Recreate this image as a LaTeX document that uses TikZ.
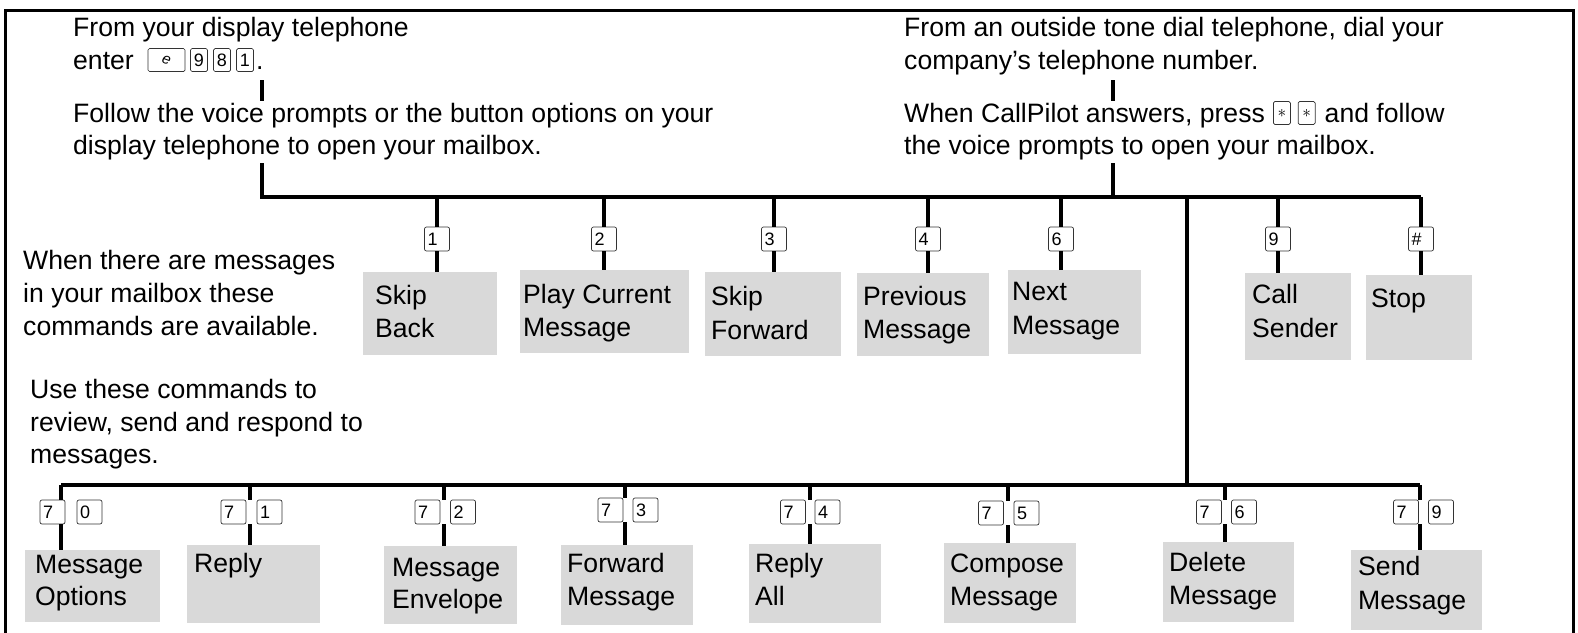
\documentclass[tikz,border=0pt]{standalone}
\usepackage{fontspec}
\setmainfont{Liberation Sans}
\usetikzlibrary{positioning}
\definecolor{boxgray}{RGB}{217,217,217}
\tikzset{
  txt/.style={font=\fontsize{26.6}{33}\selectfont, inner sep=0pt, anchor=base west},
  keybox/.style={draw=black!80, line width=0.7pt, rounded corners=2pt, minimum height=24pt,
    text width=19pt, inner xsep=3pt, inner ysep=0pt, align=left, font=\fontsize{18}{18}\selectfont},
  ikey/.style={draw=black!80, line width=0.7pt, rounded corners=1.5pt, minimum height=23pt,
    minimum width=17pt, inner sep=0pt, font=\fontsize{18}{18}\selectfont},
  cmd/.style={fill=boxgray, inner sep=0pt, anchor=north west},
  wire/.style={line width=3.2pt},
  frameline/.style={line width=3pt},
}
\begin{document}
\begin{tikzpicture}[x=1pt,y=-1pt]
\clip (0,0) rectangle (1578,632);
% frame
\draw[frameline] (5,700) -- (5,10) -- (1573,10) -- (1573,700);

% ---------- top left text ----------
\node[txt] (t1) at (73,36) {From your display telephone};
\node[txt] (t2) at (73,69) {enter};
\node[ikey, minimum width=37pt] (fk) at (166.5,60) {\fontsize{15}{15}\selectfont\itshape\rotatebox{-20}{e}};
\node[ikey] (k9a) at (199,60) {9};
\node[ikey] (k8a) at (222,60) {8};
\node[ikey] (k1a) at (245,60) {1};
\node[txt] (dot) at (256,69) {.};
\node[txt] (t3) at (73,122) {Follow the voice prompts or the button options on your};
\node[txt] (t4) at (73,154) {display telephone to open your mailbox.};

% ---------- top right text ----------
\node[txt] (r1) at (904,36) {From an outside tone dial telephone, dial your};
\node[txt] (r2) at (904,69) {company’s telephone number.};
\node[txt] (r3) at (904,122) {When CallPilot answers, press};
\node[ikey, right=8pt of r3.base east, anchor=west, yshift=9pt] (ks1) {$\ast$};
\node[ikey, right=7pt of ks1] (ks2) {$\ast$};
\node[txt] (r3b) at ([xshift=9pt]ks2.east |- r3.base) {and follow};
\node[txt] (r4) at (904,154) {the voice prompts to open your mailbox.};

% short connectors between text lines
\coordinate (la1) at (262,80);
\coordinate (la2) at (262,101);
\coordinate (ra1) at (1113,80);
\coordinate (ra2) at (1113,101);
\draw[wire] (la1) -- (la2);
\draw[wire] (ra1) -- (ra2);

% ---------- top bus ----------
\coordinate (lt) at (262,163);
\coordinate (rt) at (1113,163);
\coordinate (busL) at (262,197);
\coordinate (busR) at (1421,197);
\coordinate (busB) at (1187,485);
\draw[wire] (lt) -- (busL) -- (busR);
\draw[wire] (rt) -- (rt |- busL);
\draw[wire] (busB |- busL) -- (busB);

% ---------- left labels ----------
\node[txt] (m1) at (23,269) {When there are messages};
\node[txt] (m2) at (23,302) {in your mailbox these};
\node[txt] (m3) at (23,335) {commands are available.};
\node[txt] (u1) at (30,398) {Use these commands to};
\node[txt] (u2) at (30,431) {review, send and respond to};
\node[txt] (u3) at (30,463) {messages.};

% ---------- top row keys ----------
\node[keybox] (k1) at (437,239) {1};
\node[keybox] (k2) at (604,239) {2};
\node[keybox] (k3) at (774,239) {3};
\node[keybox] (k4) at (928,239) {4};
\node[keybox] (k6) at (1061,239) {6};
\node[keybox] (k9) at (1278,239) {9};
\node[keybox] (kh) at (1421,239) {\#};

% ---------- top row boxes ----------
\node[cmd, minimum width=134pt, minimum height=83pt] (b1) at (363,272) {};
\node[cmd, minimum width=169pt, minimum height=83pt] (b2) at (520,270) {};
\node[cmd, minimum width=136pt, minimum height=84pt] (b3) at (705,272) {};
\node[cmd, minimum width=132pt, minimum height=83pt] (b4) at (857,273) {};
\node[cmd, minimum width=133pt, minimum height=84pt] (b6) at (1008,270) {};
\node[cmd, minimum width=106pt, minimum height=87pt] (b9) at (1245,273) {};
\node[cmd, minimum width=106pt, minimum height=85pt] (bh) at (1366,275) {};

\node[txt] (b1a) at (375,304) {Skip};
\node[txt] (b1b) at (375,337) {Back};
\node[txt] (b2a) at (523,303) {Play Current};
\node[txt] (b2b) at (523,336) {Message};
\node[txt] (b3a) at (711,305) {Skip};
\node[txt] (b3b) at (711,339) {Forward};
\node[txt] (b4a) at (863,305) {Previous};
\node[txt] (b4b) at (863,338) {Message};
\node[txt] (b6a) at (1012,300) {Next};
\node[txt] (b6b) at (1012,334) {Message};
\node[txt] (b9a) at (1252,303) {Call};
\node[txt] (b9b) at (1252,337) {Sender};
\node[txt] (bha) at (1371,307) {Stop};

% top row connectors
\foreach \k/\b in {k1/b1,k2/b2,k3/b3,k4/b4,k6/b6,k9/b9,kh/bh}{
  \draw[wire] (\k.north |- busL) -- (\k.north);
  \draw[wire] (\k.south) -- (\k.south |- \b.north);
}

% ---------- lower bus ----------
\coordinate (j0) at (61,485);
\coordinate (j1) at (250,485);
\coordinate (j2) at (444,485);
\coordinate (j3) at (625,485);
\coordinate (j4) at (810,485);
\coordinate (j5) at (1008,485);
\coordinate (j6) at (1225,485);
\coordinate (j9) at (1420,485);
\draw[wire] (j0) -- (j9);

% lower keys (pairs)
\node[keybox] (p0a) at (52.5,512) {7};
\node[keybox] (p0b) at (89.5,512) {0};
\node[keybox] (p1a) at (233.5,512) {7};
\node[keybox] (p1b) at (269.5,512) {1};
\node[keybox] (p2a) at (427.5,512) {7};
\node[keybox] (p2b) at (463,512) {2};
\node[keybox] (p3a) at (610.5,510) {7};
\node[keybox] (p3b) at (645.5,510) {3};
\node[keybox] (p4a) at (793,512) {7};
\node[keybox] (p4b) at (827.5,512) {4};
\node[keybox] (p5a) at (991,513) {7};
\node[keybox] (p5b) at (1026.5,513) {5};
\node[keybox] (p6a) at (1209,512) {7};
\node[keybox] (p6b) at (1244,512) {6};
\node[keybox] (p9a) at (1406,512) {7};
\node[keybox] (p9b) at (1441,512) {9};

% lower boxes
\node[cmd, minimum width=135pt, minimum height=72pt] (c0) at (25,550) {};
\node[cmd, minimum width=133pt, minimum height=78pt] (c1) at (187,545) {};
\node[cmd, minimum width=133pt, minimum height=78pt] (c2) at (384,546) {};
\node[cmd, minimum width=132pt, minimum height=80pt] (c3) at (561,545) {};
\node[cmd, minimum width=132pt, minimum height=79pt] (c4) at (749,544) {};
\node[cmd, minimum width=132pt, minimum height=80pt] (c5) at (944,543) {};
\node[cmd, minimum width=131pt, minimum height=80pt] (c6) at (1163,542) {};
\node[cmd, minimum width=131pt, minimum height=80pt] (c9) at (1351,550) {};

\node[txt] (c0a) at (35,573) {Message};
\node[txt] (c0b) at (35,605) {Options};
\node[txt] (c1a) at (194,572) {Reply};
\node[txt] (c2a) at (392,576) {Message};
\node[txt] (c2b) at (392,608) {Envelope};
\node[txt] (c3a) at (567,572) {Forward};
\node[txt] (c3b) at (567,605) {Message};
\node[txt] (c4a) at (755,572) {Reply};
\node[txt] (c4b) at (755,605) {All};
\node[txt] (c5a) at (950,572) {Compose};
\node[txt] (c5b) at (950,605) {Message};
\node[txt] (c6a) at (1169,571) {Delete};
\node[txt] (c6b) at (1169,604) {Message};
\node[txt] (c9a) at (1358,575) {Send};
\node[txt] (c9b) at (1358,609) {Message};

% lower connectors
\foreach \j/\k/\c in {j0/p0a/c0,j1/p1a/c1,j2/p2a/c2,j3/p3a/c3,j4/p4a/c4,j5/p5a/c5,j6/p6a/c6,j9/p9a/c9}{
  \draw[wire] (\j) -- (\j |- \k.north);
  \draw[wire] (\j |- \k.south) -- (\j |- \c.north);
}
\end{tikzpicture}
\end{document}
